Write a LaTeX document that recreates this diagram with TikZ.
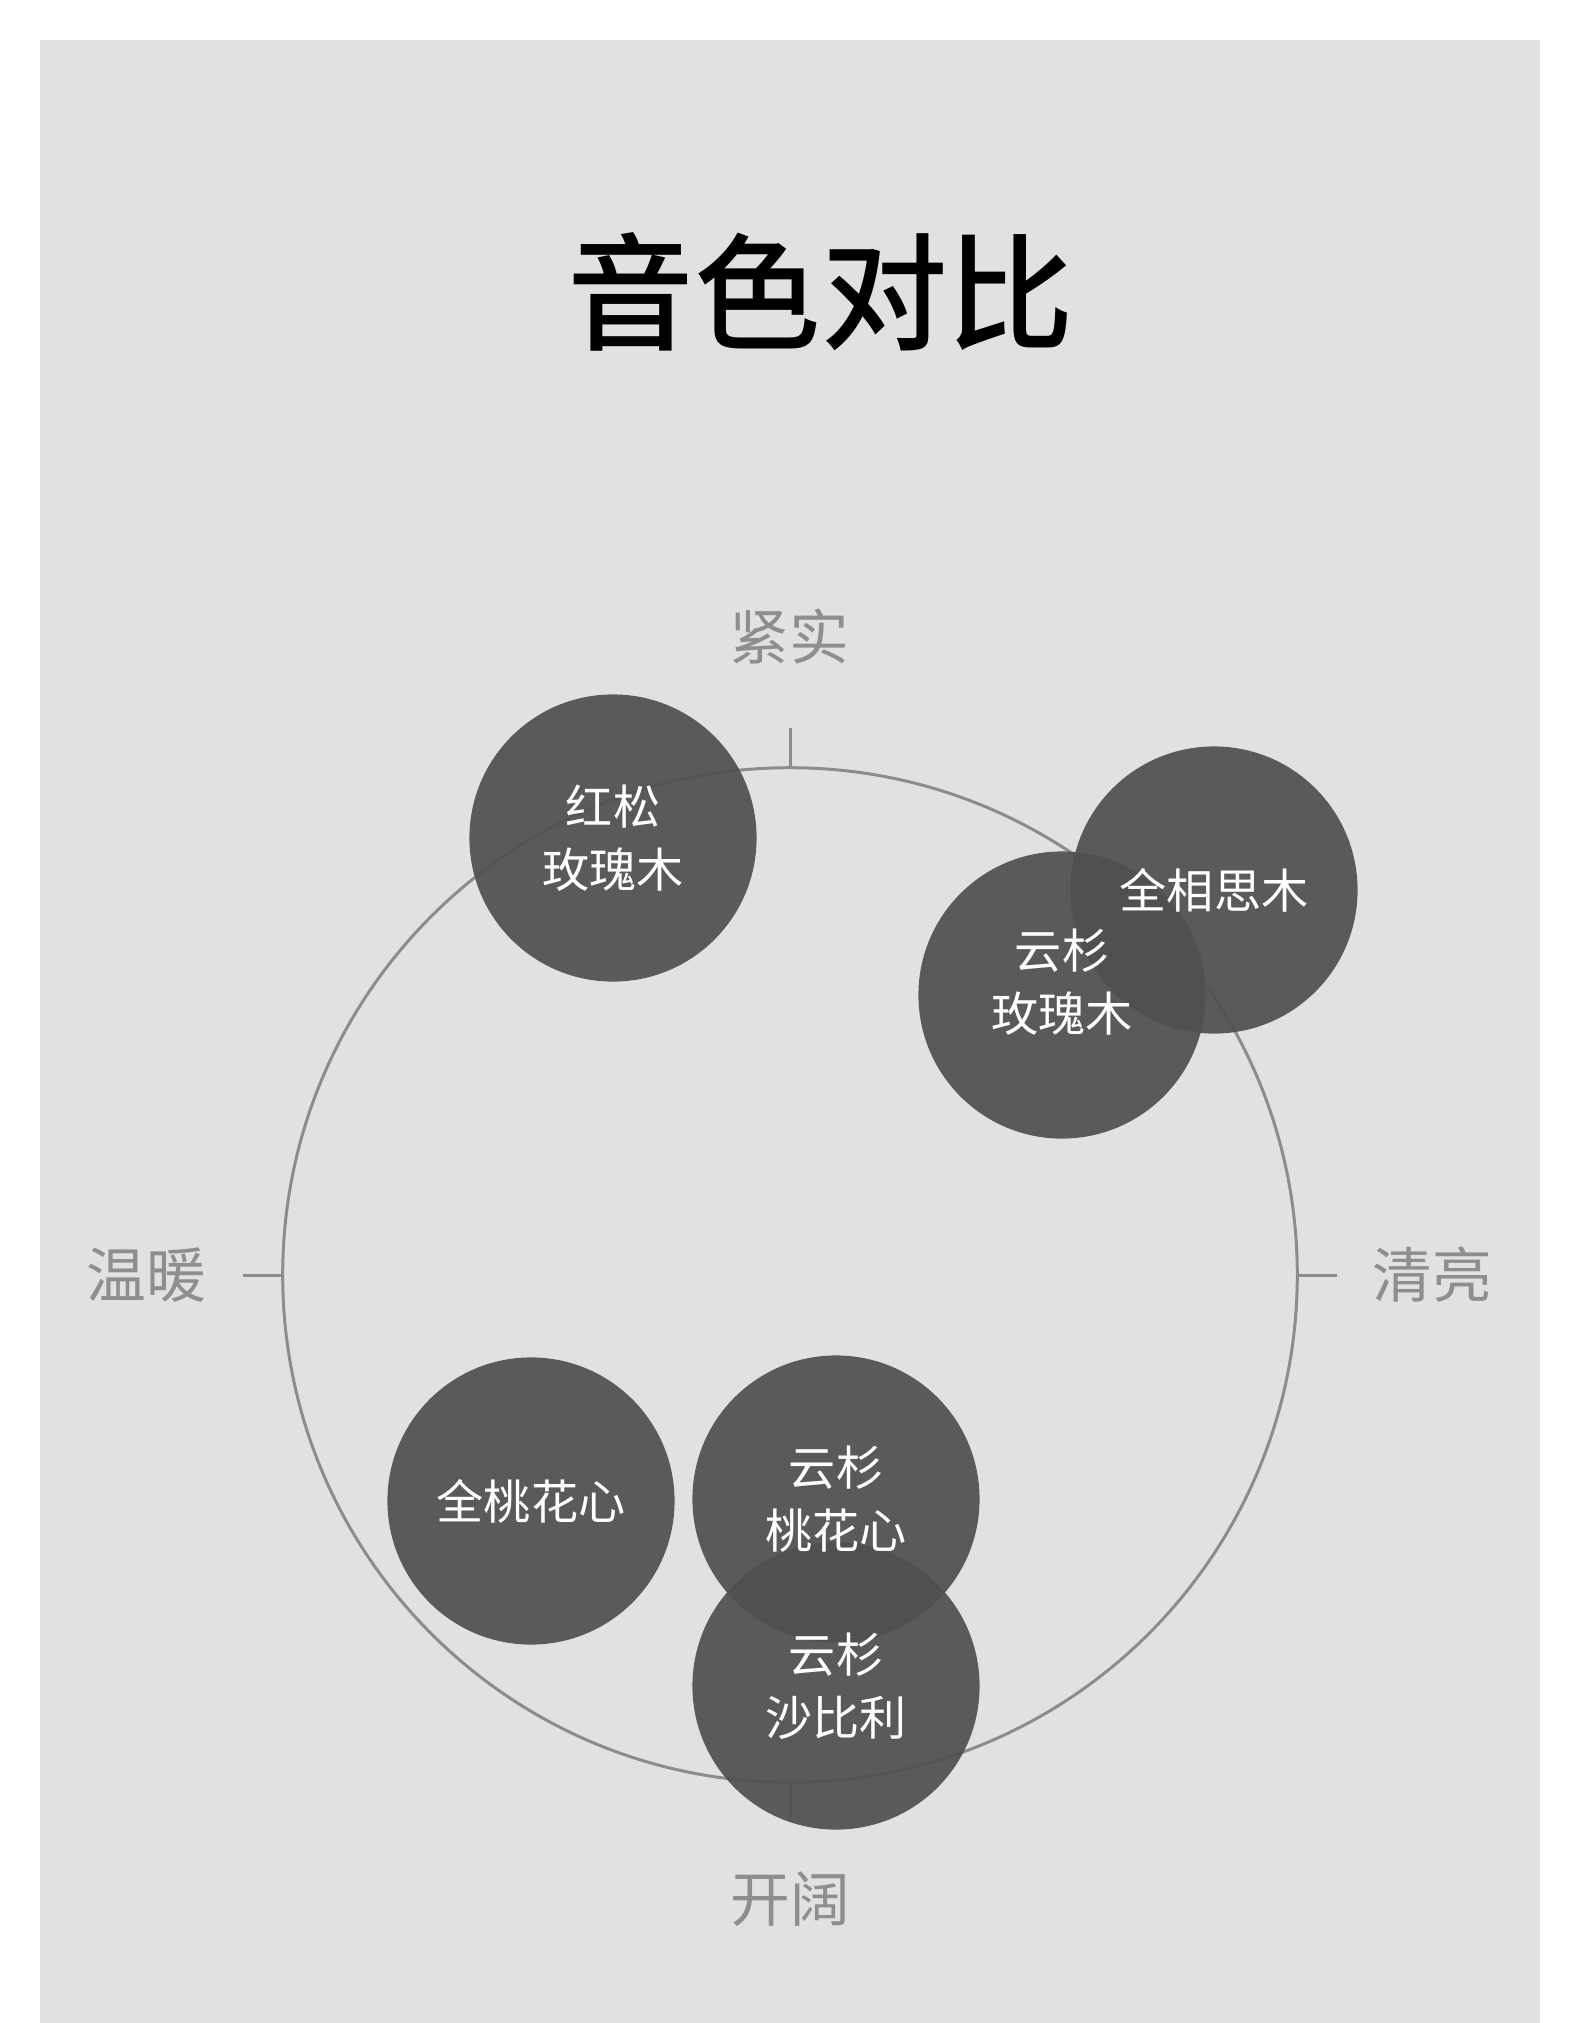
\documentclass[tikz,border=0pt]{standalone}
\usepackage{fontspec}
\setmainfont{Noto Sans CJK SC}
\newfontfamily\titlefont{Noto Sans CJK SC Medium}
\usepackage{tikz}
\usetikzlibrary{calc,positioning}
\definecolor{panelgray}{HTML}{E1E1E1}
\definecolor{ringgray}{HTML}{8C8C8C}
\definecolor{labelgray}{HTML}{8E8E8E}
\definecolor{discgray}{HTML}{505050}

\begin{document}
\begin{tikzpicture}[x=0.01cm,y=-0.01cm,
    disc/.style={circle,fill=discgray,fill opacity=0.93,minimum size=2.87cm,inner sep=0pt},
    woodtext/.style={text=white,align=center,font=\fontsize{13.4}{18}\selectfont},
    pole/.style={text=labelgray,font=\fontsize{17}{20}\selectfont},
    tick/.style={draw=ringgray,line width=0.85pt}]
                \useasboundingbox (0,0) rectangle (1581,2023);
                %Panel
                \fill[panelgray] (40,40) rectangle (1540,2023);
                %Title
                \node[font=\titlefont\fontsize{36}{40}\selectfont] (title) at (821,292) {音色对比};
                %Ring and ticks
                \node[circle,tick,minimum size=10.14cm,inner sep=0pt] (ring) at (790,1275) {};
                \coordinate (tn) at ($(ring.north)+(0,-38)$);
                \coordinate (ts) at ($(ring.south)+(0,38)$);
                \coordinate (tw) at ($(ring.west)+(-38,0)$);
                \coordinate (te) at ($(ring.east)+(38,0)$);
                \draw[tick] (ring.north) -- (tn);
                \draw[tick] (ring.south) -- (ts);
                \draw[tick] (ring.west) -- (tw);
                \draw[tick] (ring.east) -- (te);
                %Poles
                \node[pole] (jinshi) at (789,636) {紧实};
                \node[pole] (kaikuo) at (790,1899) {开阔};
                \node[pole] (wennuan) at (146,1275) {温暖};
                \node[pole] (qingliang) at (1432,1275) {清亮};
                %Discs
                \node[disc] (hongsong) at (613,838) {};
                \node[disc] (yunmeigui) at (1062,995) {};
                \node[disc] (xiangsi) at (1214,890) {};
                \node[disc] (taohua) at (531,1501) {};
                \node[disc] (yuntaohua) at (836,1499) {};
                \node[disc] (yunshabi) at (836,1686) {};
                %Disc labels
                \node[woodtext] at (hongsong) {红松\\玫瑰木};
                \node[woodtext] at ($(yunmeigui)+(0,-13)$) {云杉\\玫瑰木};
                \node[woodtext] at (xiangsi) {全相思木};
                \node[woodtext] at (taohua) {全桃花心};
                \node[woodtext] at (yuntaohua) {云杉\\桃花心};
                \node[woodtext] at (yunshabi) {云杉\\沙比利};
\end{tikzpicture}
\end{document}
